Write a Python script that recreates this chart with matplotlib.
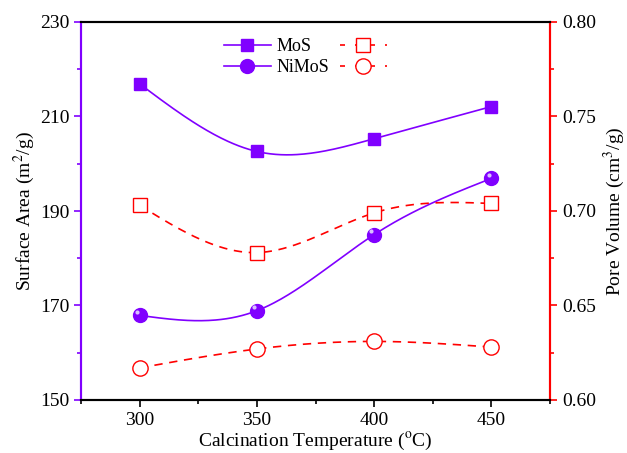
import numpy as np
import matplotlib.pyplot as plt
from matplotlib.lines import Line2D

plt.rcParams['font.family'] = ['Liberation Serif', 'DejaVu Serif']
plt.rcParams['mathtext.fontset'] = 'stix'

temps = [300, 350, 400, 450]
area_mos = [216.9, 202.6, 205.3, 212.1]
area_nimos = [167.9, 168.9, 185.0, 196.9]
pore_mos = [0.703, 0.678, 0.699, 0.704]
pore_nimos = [0.617, 0.627, 0.631, 0.628]

purple = '#8000ff'
red = '#ff0000'


def spline(x, y, n=200):
    # natural cubic spline, just for drawing the smooth connecting line
    x = np.asarray(x, float)
    y = np.asarray(y, float)
    k = len(x)
    h = np.diff(x)
    A = np.zeros((k, k))
    b = np.zeros(k)
    A[0, 0] = A[-1, -1] = 1
    for i in range(1, k - 1):
        A[i, i - 1] = h[i - 1]
        A[i, i] = 2 * (h[i - 1] + h[i])
        A[i, i + 1] = h[i]
        b[i] = 6 * ((y[i + 1] - y[i]) / h[i] - (y[i] - y[i - 1]) / h[i - 1])
    m = np.linalg.solve(A, b)
    xs = np.linspace(x[0], x[-1], n)
    idx = np.clip(np.searchsorted(x, xs) - 1, 0, k - 2)
    x0, x1 = x[idx], x[idx + 1]
    hh = x1 - x0
    t0, t1 = x1 - xs, xs - x0
    ys = (m[idx] * t0 ** 3 + m[idx + 1] * t1 ** 3) / (6 * hh) \
        + (y[idx] / hh - m[idx] * hh / 6) * t0 \
        + (y[idx + 1] / hh - m[idx + 1] * hh / 6) * t1
    return xs, ys


fig = plt.figure(figsize=(6.27, 4.53), dpi=100)
ax = fig.add_axes([81 / 627, 53 / 453, 469 / 627, 378 / 453])
ax2 = ax.twinx()

xs, ys = spline(temps, area_mos)
ax.plot(xs, ys, color=purple, lw=1.2)
ax.plot(temps, area_mos, 's', color=purple, ms=9, ls='none')
xs, ys = spline(temps, area_nimos)
ax.plot(xs, ys, color=purple, lw=1.2)
ax.plot(temps, area_nimos, 'o', color=purple, ms=10, ls='none')
ax.plot(np.array(temps) - 1.2, np.array(area_nimos) + 0.7, 'o', color='#d8c0ff',
        ms=3, ls='none', markeredgewidth=0)

xs, ys = spline(temps, pore_mos)
ax2.plot(xs, ys, color=red, lw=1.2, ls=(0, (5, 4)))
ax2.plot(temps, pore_mos, 's', mfc='white', mec=red, ms=10, mew=1)
xs, ys = spline(temps, pore_nimos)
ax2.plot(xs, ys, color=red, lw=1.2, ls=(0, (5, 4)))
ax2.plot(temps, pore_nimos, 'o', mfc='white', mec=red, ms=11, mew=1)

ax.set_xlim(275, 475)
ax.set_ylim(150, 230)
ax2.set_ylim(0.60, 0.80)
ax.set_xticks([300, 350, 400, 450])
ax.set_xticks([275, 325, 375, 425, 475], minor=True)
ax.set_yticks([150, 170, 190, 210, 230])
ax.set_yticks([160, 180, 200, 220], minor=True)
ax2.set_yticks([0.60, 0.65, 0.70, 0.75, 0.80])
ax2.set_yticks([0.625, 0.675, 0.725, 0.775], minor=True)
ax2.set_yticklabels(['0.60', '0.65', '0.70', '0.75', '0.80'])

ax.tick_params(axis='both', which='major', direction='out', length=5, width=1.2,
               labelsize=14)
ax.tick_params(axis='both', which='minor', direction='out', length=3, width=1.2)
ax.tick_params(axis='y', which='both', colors=purple, labelcolor='black')
ax2.tick_params(axis='y', which='major', direction='out', length=5, width=1.2,
                colors=red, labelcolor='black', labelsize=14)
ax2.tick_params(axis='y', which='minor', direction='out', length=3, width=1.2,
                colors=red)

for a in (ax, ax2):
    for s in a.spines.values():
        s.set_linewidth(1.5)
ax2.spines['left'].set_color(purple)
ax2.spines['right'].set_color(red)
ax.spines['left'].set_color(purple)
ax.spines['right'].set_color(red)

ax.set_xlabel('Calcination Temperature ($^{\\mathrm{o}}$C)', fontsize=14, labelpad=1)
ax.set_ylabel('Surface Area (m$^{2}$/g)', fontsize=14, labelpad=2)
ax2.set_ylabel('Pore Volume (cm$^{3}$/g)', fontsize=14, labelpad=4)

handles = [
    Line2D([], [], color=purple, marker='s', ms=9, lw=1.2),
    Line2D([], [], color=purple, marker='o', ms=10, lw=1.2),
    Line2D([], [], color=red, marker='s', mfc='white', mec=red, ms=10, lw=1.2,
           ls=(0, (3, 6))),
    Line2D([], [], color=red, marker='o', mfc='white', mec=red, ms=11, lw=1.2,
           ls=(0, (3, 6))),
]
ax.legend(handles, ['MoS', 'NiMoS', '', ''], ncol=2, loc='upper left',
          bbox_to_anchor=(0.27, 1.0), frameon=False, fontsize=13,
          handlelength=2.6, columnspacing=0.6, handletextpad=0.3,
          labelspacing=0.2)

fig.savefig('out.png', dpi=100)
